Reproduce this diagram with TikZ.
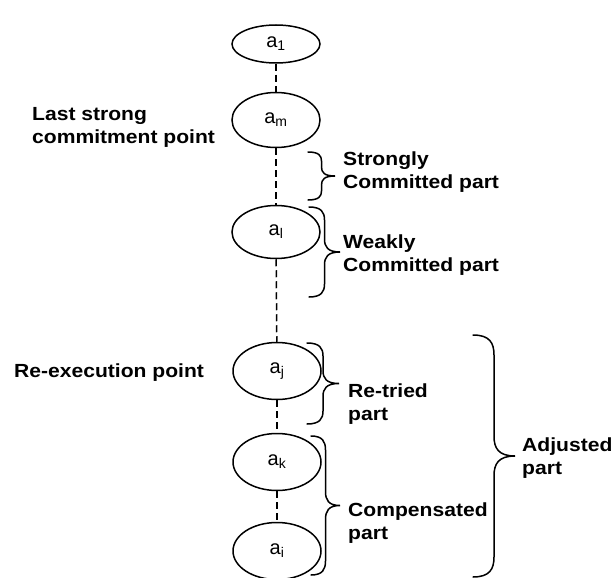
\documentclass[tikz,border=0pt]{standalone}
\usepackage{fontspec}
\setmainfont{Liberation Sans}
\newfontfamily\widesans{Liberation Sans}[FakeStretch=1.11]
\usetikzlibrary{shapes.geometric}
\usetikzlibrary{positioning}
\def\mycurl{0.4}
% side brace: x, top, bottom, width, curl
\newcommand{\curly}[5]{%
\draw[brc] ({#1},{#2})
  .. controls ({#1+\mycurl*#4},{#2}) and ({#1+0.5*#4},{#2-\mycurl*#5}) .. ({#1+0.5*#4},{#2-#5})
  -- ({#1+0.5*#4},{(#2+#3)/2+#5})
  .. controls ({#1+0.5*#4},{(#2+#3)/2+\mycurl*#5}) and ({#1+0.6*#4},{(#2+#3)/2}) .. ({#1+#4},{(#2+#3)/2})
  .. controls ({#1+0.6*#4},{(#2+#3)/2}) and ({#1+0.5*#4},{(#2+#3)/2-\mycurl*#5}) .. ({#1+0.5*#4},{(#2+#3)/2-#5})
  -- ({#1+0.5*#4},{#3+#5})
  .. controls ({#1+0.5*#4},{#3+\mycurl*#5}) and ({#1+\mycurl*#4},{#3}) .. ({#1},{#3});}
\tikzset{
act/.style={draw,ellipse,line width=1.5pt,inner sep=0pt,minimum width=88pt,
  font=\fontsize{20}{22}\selectfont},
lbl/.style={inner sep=0pt,align=left,font=\widesans\bfseries\fontsize{19}{23}\selectfont},
link/.style={line width=1.5pt,dash pattern=on 7pt off 4pt},
brc/.style={line width=1.5pt,line cap=round}
}
\begin{document}
\begin{tikzpicture}[x=1pt,y=1pt]
\useasboundingbox (0,0) rectangle (613,-578);
% activities
\node[act,minimum height=38pt] (a1) at (276,-44)  {a\textsubscript{1}};
\node[act,minimum height=55pt] (am) at (276,-120) {a\textsubscript{m}};
\node[act,minimum height=53pt] (al) at (276,-232) {a\textsubscript{l}};
\node[act,minimum height=57pt] (aj) at (277,-371) {a\textsubscript{j}};
\node[act,minimum height=57pt] (ak) at (277,-462) {a\textsubscript{k}};
\node[act,minimum height=57pt] (ai) at (277,-551) {a\textsubscript{i}};
\draw[link] (a1) -- (am);
\draw[link] (am) -- (al);
\draw[link] (al) -- (aj);
\draw[link] (aj) -- (ak);
\draw[link] (ak) -- (ai);
% braces
\curly{308}{-152}{-200}{27}{9}
\curly{309}{-207}{-297}{31}{13}
\curly{307}{-343}{-424}{32}{13}
\curly{311}{-436}{-575}{29}{14}
\curly{473}{-335}{-577}{42}{20}
% labels (base = last line)
\node[lbl,anchor=base west] (lscp) at (32,-143)  {Last strong\\commitment point};
\node[lbl,anchor=base west] (rexp) at (14,-377)  {Re-execution point};
\node[lbl,anchor=base west] (scp)  at (343,-188) {Strongly\\Committed part};
\node[lbl,anchor=base west] (wcp)  at (343,-271) {Weakly\\Committed part};
\node[lbl,anchor=base west] (rtp)  at (348,-420) {Re-tried\\part};
\node[lbl,anchor=base west] (cmp)  at (348,-539) {Compensated\\part};
\node[lbl,anchor=base west] (adp)  at (522,-474) {Adjusted\\part};
\end{tikzpicture}
\end{document}
